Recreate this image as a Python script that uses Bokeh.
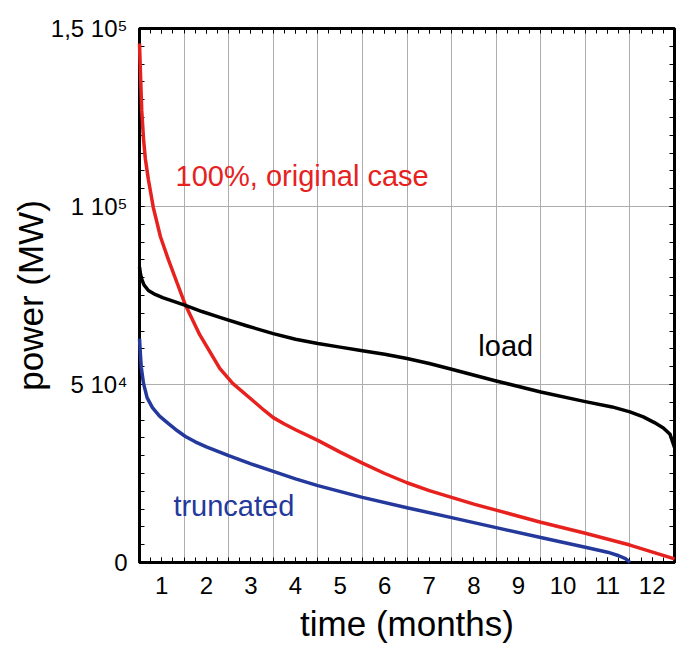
from bokeh.plotting import figure
from bokeh.models import LinearAxis, FixedTicker, Label, Range1d
from bokeh.embed import file_html
from bokeh.resources import INLINE

# ---- data (time in months, power in MW) ----
months_original = [0.0, 0.02, 0.05, 0.09, 0.13, 0.2, 0.31, 0.47, 0.65, 0.85, 1.03, 1.35, 1.8,
                   2.09, 2.56, 2.8, 3.0, 3.25, 3.5, 4.0, 4.5, 5.0, 5.5, 6.0, 6.5, 7.0, 7.5,
                   8.0, 9.0, 10.0, 11.0, 12.0]
power_original = [145800, 138000, 127000, 119000, 113500, 107500, 99700, 91500, 85000, 78300,
                  72300, 64000, 54500, 50300, 45300, 42700, 40700, 38900, 37300, 34300, 31000,
                  27900, 25000, 22400, 20200, 18300, 16400, 14700, 11300, 8200, 4900, 1000]

months_load = [0.0, 0.02, 0.05, 0.1, 0.2, 0.35, 0.52, 0.75, 1.03, 1.4, 1.82, 2.4, 3.0, 3.5,
               4.0, 4.5, 5.0, 5.5, 6.0, 6.5, 7.0, 8.0, 9.0, 10.0, 10.6, 11.0, 11.3, 11.55,
               11.75, 11.9, 12.0]
power_load = [83000, 81200, 79600, 78000, 76400, 75300, 74400, 73400, 72200, 70500, 68800,
              66500, 64300, 62700, 61500, 60500, 59500, 58500, 57300, 55900, 54300, 51000,
              47900, 45200, 43700, 42300, 40900, 39300, 37800, 36000, 32300]

months_truncated = [0.0, 0.02, 0.04, 0.09, 0.17, 0.29, 0.45, 0.65, 0.85, 1.03, 1.25, 1.5,
                    2.0, 2.5, 3.0, 3.5, 4.0, 5.0, 6.0, 7.0, 8.0, 9.0, 10.0, 10.5, 10.75,
                    10.9, 10.97, 11.0]
power_truncated = [62900, 58500, 54800, 50300, 46300, 43500, 41100, 39000, 37000, 35400,
                   33900, 32500, 30000, 27700, 25600, 23500, 21600, 18300, 15400, 12600,
                   9800, 7000, 4300, 2900, 1900, 1100, 400, 0]

x_tick_values = [0.5, 1.5, 2.5, 3.5, 4.5, 5.5, 6.5, 7.5, 8.5, 9.5, 10.5, 11.5]
x_tick_labels = ["1", "2", "3", "4", "5", "6", "7", "8", "9", "10", "11", "12"]
x_grid_values = [1, 2, 3, 4, 5, 6, 7, 8, 9, 10, 11]
y_tick_values = [0, 50000, 100000, 150000]
y_tick_labels = ["0", "5 10\u2074", "1 10\u2075", "1,5 10\u2075"]
y_grid_values = [50000, 100000]

FONT = "Liberation Sans"
RED = "#e6211e"
BLUE = "#24399b"

x_minor = [i * 0.25 for i in range(49)]
y_minor = [i * 5000 for i in range(31)]

p = figure(width=676, height=646, x_range=Range1d(0, 12), y_range=Range1d(0, 150000),
           output_backend="svg", toolbar_location=None,
           min_border_left=139, min_border_right=2, min_border_top=28, min_border_bottom=84)
p.background_fill_color = "white"
p.border_fill_color = "white"
p.outline_line_color = "black"
p.outline_line_width = 3

bottom_axis = p.xaxis[0]
left_axis = p.yaxis[0]

bottom_axis.ticker = FixedTicker(ticks=x_tick_values, minor_ticks=x_minor)
left_axis.ticker = FixedTicker(ticks=y_tick_values, minor_ticks=y_minor)
bottom_axis.major_label_overrides = {v: t for v, t in zip(x_tick_values, x_tick_labels)}
left_axis.major_label_overrides = {v: t for v, t in zip(y_tick_values, y_tick_labels)}

top_axis = LinearAxis(ticker=FixedTicker(ticks=x_tick_values, minor_ticks=x_minor),
                      major_label_overrides={v: "" for v in x_tick_values},
                      major_label_text_font_size="1px", major_label_standoff=0)
right_axis = LinearAxis(ticker=FixedTicker(ticks=y_tick_values, minor_ticks=y_minor),
                        major_label_overrides={v: "" for v in y_tick_values},
                        major_label_text_font_size="1px", major_label_standoff=0)
p.add_layout(top_axis, "above")
p.add_layout(right_axis, "right")

for ax in [bottom_axis, left_axis, top_axis, right_axis]:
    ax.axis_line_color = "black"
    ax.axis_line_width = 3
    ax.major_tick_in = 5
    ax.major_tick_out = 0
    ax.minor_tick_in = 5
    ax.minor_tick_out = 0
    ax.major_tick_line_color = "black"
    ax.minor_tick_line_color = "black"
    ax.major_tick_line_width = 1
    ax.minor_tick_line_width = 1

for ax in [bottom_axis, left_axis]:
    ax.major_label_text_font = FONT
    ax.major_label_text_font_size = "24px"
    ax.major_label_text_color = "black"
    ax.axis_label_text_font = FONT
    ax.axis_label_text_font_size = "35px"
    ax.axis_label_text_font_style = "normal"
    ax.axis_label_text_color = "black"

bottom_axis.major_label_standoff = 14
left_axis.major_label_standoff = 12
bottom_axis.axis_label = "time (months)"
left_axis.axis_label = "power (MW)"
bottom_axis.axis_label_standoff = 7
left_axis.axis_label_standoff = -2

p.xgrid.ticker = FixedTicker(ticks=x_grid_values)
p.ygrid.ticker = FixedTicker(ticks=y_grid_values)
p.xgrid.grid_line_color = "#adadad"
p.ygrid.grid_line_color = "#adadad"
p.xgrid.grid_line_width = 1
p.ygrid.grid_line_width = 1

p.line(months_original, power_original, line_color=RED, line_width=3.5, line_join="round",
       level="overlay")
p.line(months_load, power_load, line_color="black", line_width=3.5, line_join="round",
       level="overlay")
p.line(months_truncated, power_truncated, line_color=BLUE, line_width=3.5, line_join="round",
       level="overlay")

p.add_layout(Label(x=0.81, y=108700, text="100%, original case", text_color=RED,
                   text_font=FONT, text_font_size="29px", text_baseline="alphabetic"))
p.add_layout(Label(x=7.6, y=60950, text="load", text_color="black",
                   text_font=FONT, text_font_size="29px", text_baseline="alphabetic"))
p.add_layout(Label(x=0.76, y=16000, text="truncated", text_color=BLUE,
                   text_font=FONT, text_font_size="29px", text_baseline="alphabetic"))

open("out.html", "w").write(file_html(p, INLINE))
